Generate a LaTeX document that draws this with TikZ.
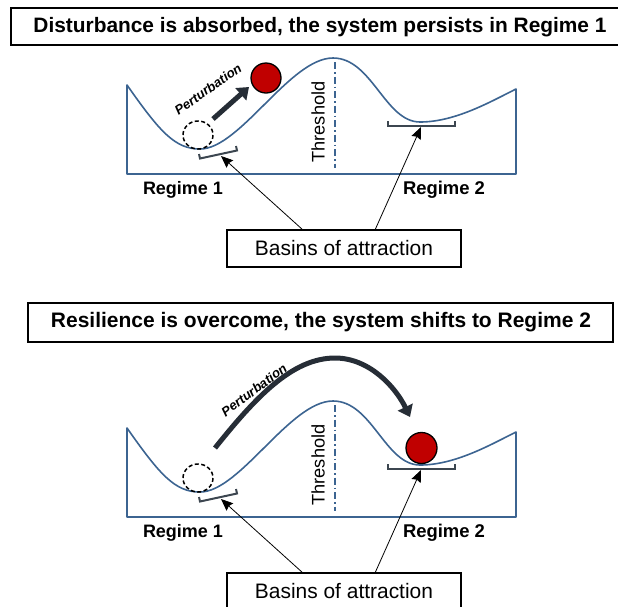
\documentclass[tikz,border=0pt]{standalone}
\usepackage{fontspec}
\setmainfont{Liberation Sans}
\usetikzlibrary{arrows.meta}
\definecolor{curveblue}{RGB}{60,100,145}
\definecolor{brk}{RGB}{60,70,80}
\definecolor{darkarrow}{RGB}{38,45,54}
\definecolor{ballred}{RGB}{192,0,0}
\newcommand\fitw[2]{\resizebox{#1}{!}{#2}}
\newcommand\drawlandscape[1]{%
  \draw[curve] (127,85) .. controls (160,132) and (175,149) .. (200,149)
     .. controls (240,149) and (290,58) .. (333,58)
     .. controls (372,58) and (385,122) .. (420,122)
     .. controls (455,122) and (490,102) .. (516,89)
     -- (516,174) -- (127,174) -- cycle;
  \draw[thresh] (335,62) -- (335,168);
  \node[rotate=90, inner sep=0pt] (#1thr) at (318,122) {\fitw{81pt}{Threshold}};
  \draw[bracketline] (199,154) -- (200,158.5) -- (237,150.5) -- (236,146);
  \draw[bracketline] (388,121) -- (388,125.5) -- (455,125.5) -- (455,121);
  \coordinate (#1tipL) at (221,156);
  \coordinate (#1tipR) at (421,127);
  \node[inner sep=0pt] (#1reg1) at (183,190) {\fitw{80pt}{\bfseries Regime 1}};
  \node[inner sep=0pt] (#1reg2) at (444,190) {\fitw{82pt}{\bfseries Regime 2}};
  \node[basinbox] (#1basin) at (344,248.5) {\fitw{178pt}{Basins of attraction}};
  \coordinate (#1srcL) at (303,230);
  \coordinate (#1srcR) at (375,230);
  \draw[ptr] (#1srcL) -- (#1tipL);
  \draw[ptr] (#1srcR) -- (#1tipR);
  \draw[ghost] (198,135) ellipse [x radius=15, y radius=14];
}
\begin{document}
\begin{tikzpicture}[x=1pt,y=-1pt,
  curve/.style={draw=curveblue, line width=1.6pt, line join=round},
  thresh/.style={draw=curveblue, line width=1.6pt, dash pattern=on 7pt off 3pt on 1.5pt off 3pt},
  bracketline/.style={draw=brk, line width=2pt},
  ptr/.style={draw=black, line width=0.8pt, -{Stealth[length=12pt,width=10pt,inset=1.5pt]}},
  basinbox/.style={draw=black, line width=1.3pt, minimum width=234pt, minimum height=37pt, inner sep=0pt},
  titlebox/.style={draw=black, line width=1.6pt, inner sep=0pt},
  ghost/.style={draw=black, line width=1.5pt, dash pattern=on 4pt off 2.5pt},
  ball/.style={draw=black, line width=1.3pt, fill=ballred},
  perturb/.style={draw=darkarrow, line width=5pt, -{Triangle[length=11pt,width=16pt]}},
  plabel/.style={inner sep=0pt}
]
\useasboundingbox (0,0) rectangle (618,606);
% ---------- Panel 1 ----------
\node[titlebox, minimum width=619pt, minimum height=37pt] (title1) at (320.5,26.5) {};
\node[inner sep=0pt] (title1txt) at (320,27) {\fitw{573pt}{\bfseries Disturbance is absorbed, the system persists in Regime 1}};
\drawlandscape{a}
\node[ball, circle, minimum size=30pt, inner sep=0pt] (aball) at (266,78) {};
\coordinate (apstart) at (213,119);
\coordinate (apend) at (249,87);
\draw[perturb] (apstart) -- (apend);
\node[plabel, rotate=35] (aplabel) at (208,89) {\fitw{78pt}{\bfseries\itshape Perturbation}};
% ---------- Panel 2 ----------
\node[titlebox, minimum width=585pt, minimum height=39pt] (title2) at (320.5,322.5) {};
\node[inner sep=0pt] (title2txt) at (321,322) {\fitw{540pt}{\bfseries Resilience is overcome, the system shifts to Regime 2}};
\begin{scope}[yshift=-343pt]
\drawlandscape{b}
\node[ball, circle, minimum size=31pt, inner sep=0pt] (bball) at (421.5,105) {};
\coordinate (bpstart) at (215,105);
\coordinate (bpend) at (410,74);
\draw[perturb] (bpstart) .. controls (255,55) and (292,15) .. (335,15)
   .. controls (370,15) and (396,45) .. (bpend);
\node[plabel, rotate=37] (bplabel) at (254,47) {\fitw{78pt}{\bfseries\itshape Perturbation}};
\end{scope}
\end{tikzpicture}
\end{document}
